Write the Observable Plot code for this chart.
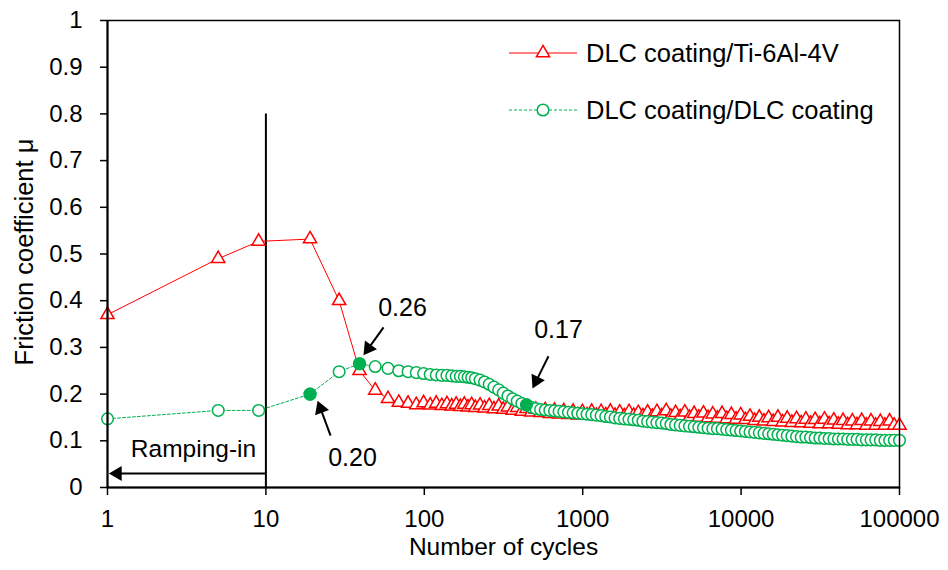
<!DOCTYPE html>
<html><head><meta charset="utf-8">
<script src="https://cdn.jsdelivr.net/npm/d3@7"></script>
<script src="https://cdn.jsdelivr.net/npm/@observablehq/plot@0.6"></script>
<style>
html,body{margin:0;padding:0;background:#fff;}
#wrap{position:relative;width:948px;height:570px;font-family:"Liberation Sans",Arial,sans-serif;}
.item{position:absolute;left:509px;height:30px;display:flex;align-items:center;white-space:nowrap;font-size:25.5px;color:#000;}
.item svg{margin-right:7px;}
</style></head><body><div id="wrap"></div>
<script>
// ---- data ----
const cycles = [
  1, 5, 9, 19, 29, 39, 49, 59, 69, 79,
  89, 99, 109, 119, 129, 139, 149, 159, 169, 179,
  189, 199, 210, 225, 240, 257, 275, 295, 315, 337,
  361, 386, 413, 442, 473, 506, 542, 580, 620, 664,
  710, 760, 813, 870, 931, 996, 1066, 1140, 1220, 1306,
  1397, 1495, 1600, 1712, 1831, 1960, 2097, 2244, 2401, 2569,
  2748, 2941, 3147, 3367, 3603, 3855, 4125, 4413, 4722, 5053,
  5407, 5785, 6190, 6623, 7087, 7583, 8114, 8682, 9289, 9940,
  10635, 11380, 12176, 13029, 13941, 14917, 15961, 17078, 18274, 19553,
  20922, 22386, 23953, 25630, 27424, 29344, 31398, 33596, 35947, 38464,
  41156, 44037, 47120, 50418, 53947, 57724, 61764, 66088, 70714, 75664,
  80960, 86627, 92691, 100000
];
const muTi6Al4V = [
  0.370, 0.490, 0.527, 0.532, 0.400, 0.250, 0.208, 0.190, 0.182, 0.180,
  0.177, 0.181, 0.176, 0.180, 0.175, 0.179, 0.174, 0.178, 0.173, 0.178,
  0.172, 0.177, 0.171, 0.176, 0.170, 0.175, 0.168, 0.174, 0.167, 0.172,
  0.165, 0.171, 0.163, 0.169, 0.161, 0.167, 0.160, 0.166, 0.158, 0.165,
  0.157, 0.164, 0.156, 0.163, 0.155, 0.162, 0.155, 0.163, 0.154, 0.162,
  0.155, 0.163, 0.154, 0.161, 0.153, 0.162, 0.154, 0.160, 0.153, 0.161,
  0.152, 0.162, 0.153, 0.164, 0.152, 0.160, 0.151, 0.161, 0.150, 0.158,
  0.150, 0.159, 0.149, 0.157, 0.148, 0.158, 0.147, 0.156, 0.146, 0.155,
  0.145, 0.152, 0.143, 0.150, 0.142, 0.149, 0.141, 0.150, 0.140, 0.148,
  0.139, 0.147, 0.138, 0.146, 0.137, 0.145, 0.136, 0.146, 0.136, 0.144,
  0.135, 0.143, 0.134, 0.142, 0.134, 0.143, 0.133, 0.142, 0.133, 0.141,
  0.133, 0.142, 0.133, 0.133
];
const muDLC = [
  0.147, 0.165, 0.165, 0.200, 0.248, 0.265, 0.259, 0.255, 0.250, 0.248,
  0.246, 0.244, 0.242, 0.241, 0.240, 0.240, 0.239, 0.238, 0.238, 0.237,
  0.236, 0.235, 0.233, 0.230, 0.226, 0.221, 0.215, 0.209, 0.202, 0.196,
  0.190, 0.185, 0.180, 0.177, 0.172, 0.169, 0.167, 0.166, 0.165, 0.164,
  0.163, 0.162, 0.161, 0.160, 0.159, 0.158, 0.157, 0.156, 0.155, 0.154,
  0.152, 0.151, 0.149, 0.148, 0.147, 0.146, 0.145, 0.144, 0.142, 0.141,
  0.140, 0.139, 0.138, 0.137, 0.135, 0.134, 0.133, 0.132, 0.131, 0.130,
  0.129, 0.128, 0.127, 0.126, 0.126, 0.125, 0.124, 0.123, 0.122, 0.121,
  0.120, 0.119, 0.118, 0.117, 0.116, 0.115, 0.114, 0.113, 0.112, 0.111,
  0.110, 0.109, 0.108, 0.108, 0.107, 0.106, 0.106, 0.105, 0.105, 0.104,
  0.104, 0.104, 0.103, 0.103, 0.103, 0.102, 0.102, 0.102, 0.102, 0.101,
  0.101, 0.101, 0.101, 0.101
];
const highlightCycles = [19, 39, 442];
const seriesNames = ["DLC coating/Ti-6Al-4V", "DLC coating/DLC coating"];
const xTicks = [1, 10, 100, 1000, 10000, 100000];
const yTicks = [0, 0.1, 0.2, 0.3, 0.4, 0.5, 0.6, 0.7, 0.8, 0.9, 1];
const xTitle = "Number of cycles";
const yTitle = "Friction coefficient μ";
// annotations (data coordinates)
const annoLabels = ["0.26", "0.20", "0.17"];
const annoLabelX = [72.8, 35.2, 703];
const annoLabelY = [0.385, 0.064, 0.338];
const annoTailX = [55.3, 25.6, 608];
const annoTailY = [0.343, 0.111, 0.281];
const annoTipX = [41.3, 21.2, 482];
const annoTipY = [0.283, 0.186, 0.212];
const rampLabel = "Ramping-in";
const rampStart = 10, rampEnd = 1.02, rampY = 0.03, rampLabelX = 3.49, rampLabelY = 0.083;
const ramp10Top = 0.8;

// ---- layout ----
const W = 948, H = 570, mL = 107, mR = 49, mT = 20, mB = 83;
const RED = "#FF0000", GREEN = "#00B050";
const headR = 5.5;

const red = cycles.map((c, i) => ({cycles: c, mu: muTi6Al4V[i]}));
const green = cycles.map((c, i) => ({cycles: c, mu: muDLC[i]}));
const greenHi = green.filter(d => highlightCycles.includes(d.cycles));

const xs = Plot.scale({x: {type: "log", domain: [1, 100000], range: [mL, W - mR]}});
const ys = Plot.scale({y: {domain: [0, 1], range: [H - mB, mT]}});

const arrowsIn = annoLabels.map((_, i) => ({x1: annoTailX[i], y1: annoTailY[i], x2: annoTipX[i], y2: annoTipY[i]}));
arrowsIn.push({x1: rampStart, y1: rampY, x2: rampEnd, y2: rampY});
const k = 2 * Math.sqrt(Math.PI * headR * headR / (Math.sqrt(3) * 3));
const shafts = [], heads = [];
for (const a of arrowsIn) {
  const px1 = xs.apply(a.x1), py1 = ys.apply(a.y1), px2 = xs.apply(a.x2), py2 = ys.apply(a.y2);
  const dx = px2 - px1, dy = py2 - py1, L = Math.hypot(dx, dy), ux = dx / L, uy = dy / L;
  const cx = px2 - ux * k, cy = py2 - uy * k;
  shafts.push({x1: a.x1, y1: a.y1, x2: xs.invert(cx), y2: ys.invert(cy)});
  heads.push({x: xs.invert(cx), y: ys.invert(cy), angle: Math.atan2(ux, -uy) * 180 / Math.PI});
}
const labels = annoLabels.map((t, i) => ({t, x: annoLabelX[i], y: annoLabelY[i]}));

const chart = Plot.plot({
  width: W, height: H,
  marginLeft: mL, marginRight: mR, marginTop: mT, marginBottom: mB,
  style: {fontFamily: '"Liberation Sans", Arial, sans-serif', fontSize: "24px", color: "#000", background: "#fff", overflow: "visible"},
  x: {type: "log", domain: [1, 100000], range: [mL, W - mR]},
  y: {domain: [0, 1], range: [H - mB, mT]},
  marks: [
    Plot.ruleX([rampStart], {y1: 0, y2: ramp10Top, stroke: "#000", strokeWidth: 2}),
    Plot.line(red, {x: "cycles", y: "mu", stroke: RED, strokeWidth: 1}),
    Plot.dot(red, {x: "cycles", y: "mu", symbol: "triangle", r: 4.9, stroke: RED, fill: "#fff", strokeWidth: 1.5}),
    Plot.line(green, {x: "cycles", y: "mu", stroke: GREEN, strokeWidth: 1, strokeDasharray: "3,2"}),
    Plot.dot(green, {x: "cycles", y: "mu", r: 5.8, stroke: GREEN, fill: "#fff", strokeWidth: 1.5}),
    Plot.dot(greenHi, {x: "cycles", y: "mu", r: 5.8, stroke: GREEN, fill: GREEN, strokeWidth: 1.5}),
    Plot.link(shafts, {x1: "x1", y1: "y1", x2: "x2", y2: "y2", stroke: "#000", strokeWidth: 2}),
    Plot.dot(heads, {x: "x", y: "y", symbol: "triangle", r: headR, fill: "#000", stroke: "none", rotate: "angle"}),
    Plot.text(labels, {x: "x", y: "y", text: "t", fontSize: 25, fill: "#000"}),
    Plot.text([rampLabel], {x: rampLabelX, y: rampLabelY, fontSize: 24.5, fill: "#000"}),
    Plot.frame({stroke: "#000", strokeWidth: 1.5}),
    Plot.ruleX([1], {stroke: "#000", strokeWidth: 2}),
    Plot.ruleY([0], {stroke: "#000", strokeWidth: 2}),
    Plot.axisX({ticks: xTicks, tickFormat: d => String(d), tickSize: 8, tickPadding: 14, fontSize: 24, label: null, strokeWidth: 1.5}),
    Plot.axisY({ticks: yTicks, tickFormat: d => String(d), tickSize: 7, tickPadding: 18, fontSize: 24, label: null, strokeWidth: 1.5}),
    Plot.text([xTitle], {frameAnchor: "bottom", dy: 67, fontSize: 24.5, fill: "#000"}),
    Plot.text([yTitle], {frameAnchor: "left", textAnchor: "middle", rotate: -90, dx: -83, dy: -2, fontSize: 25.5, fill: "#000"})
  ]
});
const wrap = document.getElementById("wrap");
wrap.appendChild(chart);

// legend overlay
const legendRows = [
  {name: seriesNames[0], top: 38, color: RED, dash: null, sym: "tri"},
  {name: seriesNames[1], top: 95, color: GREEN, dash: "3,2", sym: "circ"}
];
for (const r of legendRows) {
  const div = document.createElement("div");
  div.className = "item";
  div.style.top = r.top + "px";
  const s = d3.create("svg").attr("width", 70).attr("height", 30);
  s.append("line").attr("x1", 0).attr("x2", 68).attr("y1", 15).attr("y2", 15)
    .attr("stroke", r.color).attr("stroke-width", 1).attr("stroke-dasharray", r.dash);
  if (r.sym === "tri") {
    s.append("path").attr("d", d3.symbol(d3.symbolTriangle, Math.PI * 4.9 * 4.9)())
      .attr("transform", "translate(34,15)").attr("fill", "#fff").attr("stroke", r.color).attr("stroke-width", 1.5);
  } else {
    s.append("circle").attr("cx", 34).attr("cy", 15).attr("r", 5.8)
      .attr("fill", "#fff").attr("stroke", r.color).attr("stroke-width", 1.5);
  }
  div.appendChild(s.node());
  const span = document.createElement("span");
  span.textContent = r.name;
  div.appendChild(span);
  wrap.appendChild(div);
}
</script></body></html>
